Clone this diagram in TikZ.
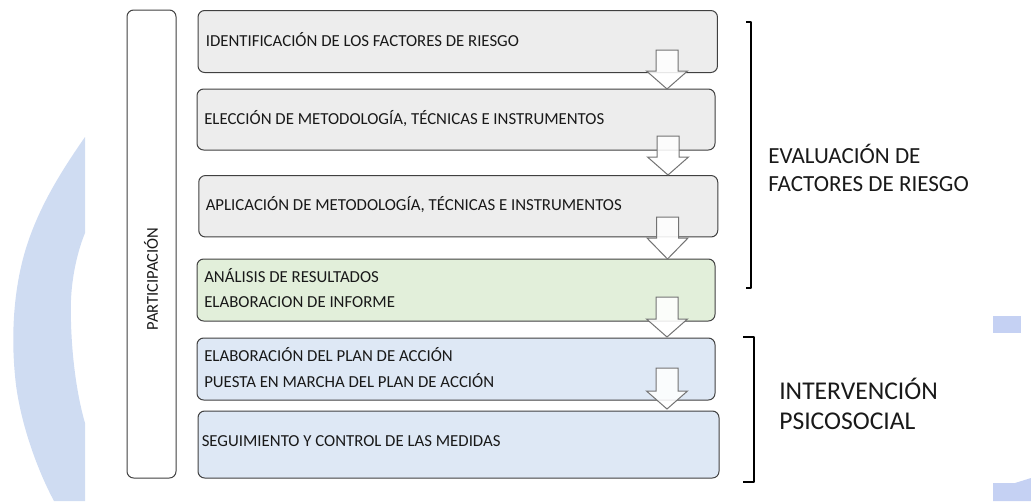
\documentclass[tikz,border=0pt]{standalone}
\usepackage{fontspec}
\setmainfont{Carlito}
\definecolor{bgblue}{HTML}{CFDCF2}
\definecolor{boxgray}{HTML}{EDEDED}
\definecolor{boxgreen}{HTML}{E2EFDA}
\definecolor{boxblue}{HTML}{DEE8F5}
\definecolor{linegray}{HTML}{404040}
\tikzset{
  px/.style={x=0.75pt,y=-0.75pt},
  flowbox/.style={draw=linegray,line width=0.75pt,rounded corners=5pt},
  boxtext/.style={anchor=west,inner sep=0pt,font=\fontsize{12.6pt}{14pt}\selectfont,text=black!90},
  grouptext/.style={anchor=west,inner sep=0pt,align=left,text=black!90},
  downarrow/.style={draw=black!55,line width=0.75pt,fill=white,fill opacity=0.88,line join=miter},
  bracket/.style={draw=black,line width=1pt,line join=round}
}
\begin{document}
\begin{tikzpicture}[px]
\useasboundingbox (0,0) rectangle (1031,501);
% background
\fill[bgblue] (85,137) .. controls (62,170) and (40,205) .. (27,245)
  .. controls (14,285) and (10,335) .. (16,385)
  .. controls (22,430) and (40,475) .. (54,501) -- (85,501) -- (85,423)
  .. controls (74,385) and (70,335) .. (71,300) .. controls (72,275) and (78,250) .. (85,233) -- cycle;
\fill[bgblue!95!blue] (993,316) rectangle (1021,333);
\fill[bgblue!95!blue] (993,483) -- (1015,483) -- (1031,478) -- (1031,501) -- (993,501) -- cycle;
% boxes
\node[flowbox,fill=white,inner sep=0pt] (part) at (151.5,244) {\tikz\path (0,0) rectangle (36.75pt,351pt);};
\node[flowbox,fill=boxgray,inner sep=0pt] (b1) at (457.75,41.5) {\tikz\path (0,0) rectangle (389.6pt,46.5pt);};
\node[flowbox,fill=boxgray,inner sep=0pt] (b2) at (456,119.5) {\tikz\path (0,0) rectangle (388.5pt,45.75pt);};
\node[flowbox,fill=boxgray,inner sep=0pt] (b3) at (458.25,206.25) {\tikz\path (0,0) rectangle (389.25pt,46.1pt);};
\node[flowbox,fill=boxgreen,inner sep=0pt] (b4) at (456,290) {\tikz\path (0,0) rectangle (388.5pt,46.5pt);};
\node[flowbox,fill=boxblue,inner sep=0pt] (b5) at (456,369) {\tikz\path (0,0) rectangle (388.5pt,46.5pt);};
\node[flowbox,fill=boxblue,inner sep=0pt] (b6) at (458.5,444.5) {\tikz\path (0,0) rectangle (390.75pt,50.25pt);};
% texts
\node[rotate=90,inner sep=0pt,font=\fontsize{12.4pt}{14pt}\selectfont,text=black!90] (tp) at (151,279) {PARTICIPACIÓN};
\node[boxtext] (t1) at (205.5,40) {IDENTIFICACIÓN DE LOS FACTORES DE RIESGO};
\node[boxtext] (t2) at (204,118.5) {ELECCIÓN DE METODOLOGÍA, TÉCNICAS E INSTRUMENTOS};
\node[boxtext] (t3) at (205.5,204.5) {APLICACIÓN DE METODOLOGÍA, TÉCNICAS E INSTRUMENTOS};
\node[boxtext] (t4a) at (204,276) {ANÁLISIS DE RESULTADOS};
\node[boxtext] (t4b) at (204,302) {ELABORACION DE INFORME};
\node[boxtext] (t5a) at (204,355) {ELABORACIÓN DEL PLAN DE ACCIÓN};
\node[boxtext] (t5b) at (204,381) {PUESTA EN MARCHA DEL PLAN DE ACCIÓN};
\node[boxtext] (t6) at (201.5,441) {SEGUIMIENTO Y CONTROL DE LAS MEDIDAS};
\node[grouptext,font=\fontsize{17.3pt}{21pt}\selectfont] (g1) at (768,168) {EVALUACIÓN DE\\FACTORES DE RIESGO};
\node[grouptext,font=\fontsize{19.2pt}{23pt}\selectfont] (g2) at (779,404) {INTERVENCIÓN\\PSICOSOCIAL};
% arrows
\foreach \tx/\top/\wing/\tip/\nm in {667/50/71/89/a1,668/136/157/175/a2,667.5/217/238/259/a3,667/297/319/337/a4,667/368/391/409/a5}{
  \draw[downarrow] (\tx-11,\top) -- (\tx+11,\top) -- (\tx+11,\wing) -- (\tx+20.5,\wing) -- (\tx,\tip) -- (\tx-20.5,\wing) -- (\tx-11,\wing) -- cycle;
}
% brackets
\coordinate (br1a) at (746,22); \coordinate (br1b) at (751,22);
\coordinate (br1c) at (751,288); \coordinate (br1d) at (746,288);
\draw[bracket] (br1a) -- (br1b) -- (br1c) -- (br1d);
\coordinate (br2a) at (743,337); \coordinate (br2b) at (754,337);
\coordinate (br2c) at (754,482); \coordinate (br2d) at (743,482);
\draw[bracket] (br2a) -- (br2b) -- (br2c) -- (br2d);
\end{tikzpicture}
\end{document}
